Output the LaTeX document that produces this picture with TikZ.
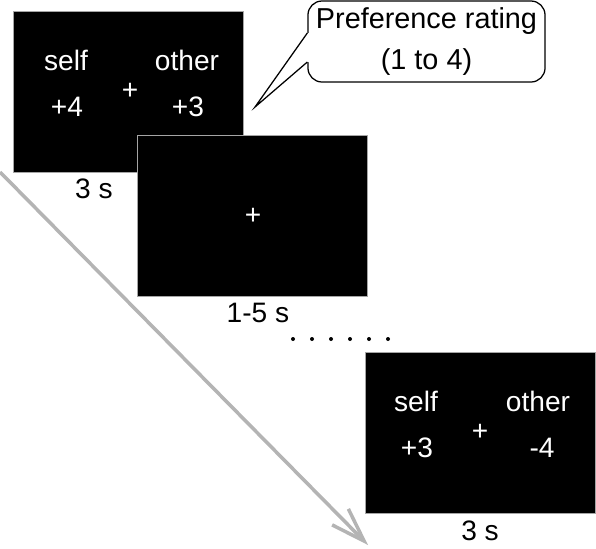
\documentclass[tikz,border=0pt]{standalone}
\usepackage{fontspec}
\setmainfont{Liberation Sans}
\usetikzlibrary{arrows.meta, positioning, calc}

\begin{document}
\begin{tikzpicture}[
    x=0.025cm, y=0.025cm,
    every node/.style={font=\fontsize{20}{28.5}\selectfont},
]
% Colors
\definecolor{screenedge}{RGB}{165,165,165}
\definecolor{arrowgray}{RGB}{180,180,180}
% ============================================================
% Styles
% ============================================================
\tikzset{
    screen/.style={
        draw=screenedge,
        fill=black,
        line width=0.6pt,
        minimum width=5.75cm,
        minimum height=4.025cm,
        inner sep=0pt,
    },
    stim/.style={text=white, inner sep=0pt},
    timing/.style={text=black, inner sep=0pt},
    bubble/.style={
        draw=black,
        fill=white,
        line width=0.9pt,
        rounded corners=10pt,
        minimum width=5.925cm,
        minimum height=2.025cm,
        align=center,
        inner sep=0pt,
        font=\fontsize{20.5}{28.5}\selectfont,
    },
}
\useasboundingbox (0,0) rectangle (596,-548);
\def\dx{62}
\def\up{31}
\def\dn{15}

% --- Time arrow (behind everything) ---
\coordinate (tstart) at (0,-172);
\coordinate (tend) at (368,-545);
\draw[-{Straight Barb[length=0.85cm, width=0.57cm]}, arrowgray, line width=2.5pt]
    (tstart) -- (tend);

% ============================================================
% Screens
% ============================================================
% Screen 1: choice
\node[screen] (s1) at (128, -91.5) {};
\node[stim] (s1self)  at ($(s1.center) + (-\dx, \up)$) {self};
\node[stim] (s1other) at ($(s1.center) + (\dx-3, \up)$) {other};
\node[stim] (s1selfval)  at ($(s1.center) + (-\dx+1, -\dn)$) {+4};
\node[stim] (s1otherval) at ($(s1.center) + (\dx-2, -\dn)$) {+3};
\node[stim] (s1fix) at ($(s1.center) + (2, 0)$) {+};
\node[timing] (t1) at ($(s1.south) + (-34, -16.5)$) {3 s};

% Screen 2: fixation
\node[screen] (s2) at (252.5, -215.5) {};
\node[stim] (s2fix) at ($(s2.center) + (0.5, -1)$) {+};
\node[timing] (t2) at ($(s2.south) + (5.5, -16.5)$) {1-5 s};

% ... more trials
\foreach \i in {0,...,5} {
    \fill ({293+19*\i}, -339) circle (2);
}

% Screen 3: choice
\node[screen] (s3) at (480, -432.5) {};
\node[stim] (s3self)  at ($(s3.center) + (-\dx-2, \up)$) {self};
\node[stim] (s3other) at ($(s3.center) + (\dx-4, \up)$) {other};
\node[stim] (s3selfval)  at ($(s3.center) + (-\dx-1, -\dn)$) {+3};
\node[stim] (s3otherval) at ($(s3.center) + (\dx, -\dn)$) {-4};
\node[stim] (s3fix) at ($(s3.center) + (0, 0)$) {+};
\node[timing] (t3) at ($(s3.south) + (0, -17)$) {3 s};

% ============================================================
% Callout
% ============================================================
\node[bubble] (rating) at (426.5, -41.5) {Preference rating\\(1 to 4)};
\coordinate (pa) at ($(rating.west) + (0, 8.5)$);
\coordinate (pb) at ($(rating.west) + (0, -20.5)$);
\coordinate (ptip) at (255, -107);
\fill[white] (pa) -- (ptip) -- (pb) -- ($(pb) + (2, 0)$) -- ($(pa) + (2, 0)$) -- cycle;
\draw[line width=0.9pt] (pa) -- (ptip) -- (pb);
\end{tikzpicture}
\end{document}
